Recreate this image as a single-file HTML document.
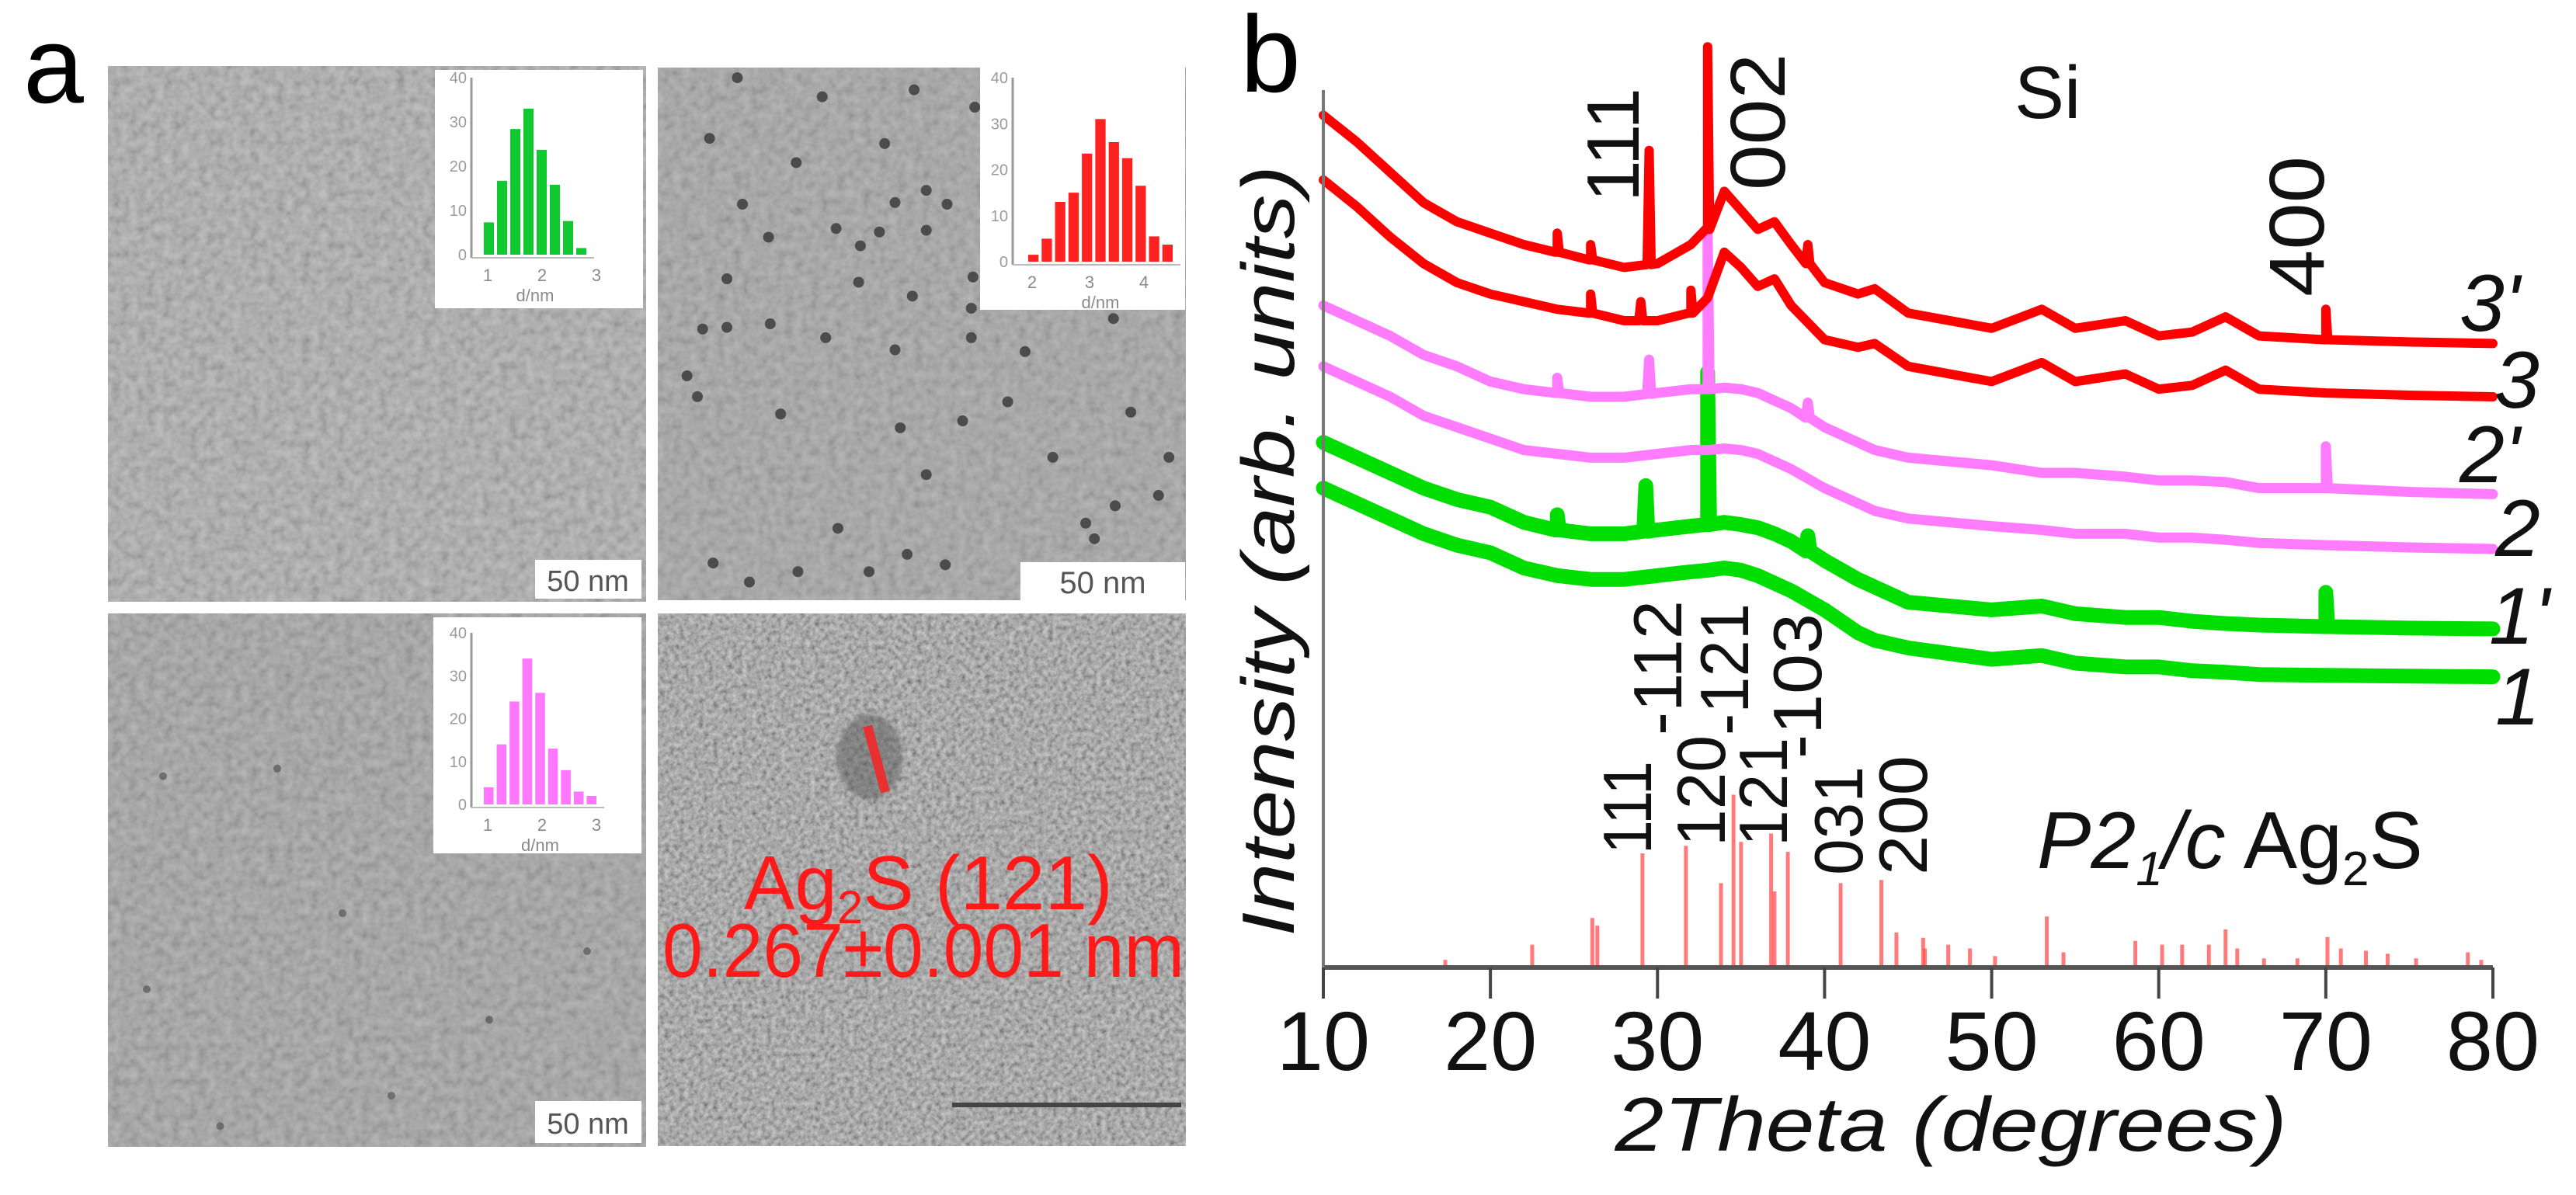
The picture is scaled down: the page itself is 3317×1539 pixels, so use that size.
<!DOCTYPE html>
<html><head><meta charset="utf-8"><title>TEM and XRD figure</title>
<style>
html,body{margin:0;padding:0;background:#fff;}
body{width:3317px;height:1539px;overflow:hidden;}
svg{display:block;font-family:"Liberation Sans",Arial,sans-serif;}
</style></head>
<body>
<svg id="fig" width="3317" height="1539" viewBox="0 0 3317 1539" xmlns="http://www.w3.org/2000/svg">
<defs>
<filter id="nA" x="0" y="0" width="100%" height="100%"><feTurbulence type="fractalNoise" baseFrequency="0.09" numOctaves="2" seed="4"/><feColorMatrix type="matrix" values="1 0 0 0 0 1 0 0 0 0 1 0 0 0 0 0 0 0 0 1"/></filter>
<filter id="nB" x="0" y="0" width="100%" height="100%"><feTurbulence type="fractalNoise" baseFrequency="0.16" numOctaves="2" seed="9"/><feColorMatrix type="matrix" values="1 0 0 0 0 1 0 0 0 0 1 0 0 0 0 0 0 0 0 1"/></filter>
<filter id="blur2"><feGaussianBlur stdDeviation="2"/></filter>
</defs>

<!-- Panel a -->
<text x="30" y="132" font-size="140">a</text>

<g>
<rect x="139" y="85" width="693" height="690" fill="#a9a9a9"/>
<rect x="139" y="85" width="693" height="690" filter="url(#nA)" opacity="0.3"/>
</g>
<g>
<rect x="847" y="87" width="680" height="686" fill="#a2a2a2"/>
<rect x="847" y="87" width="680" height="686" filter="url(#nA)" opacity="0.25"/>
<g id="dotsTR"></g>
</g>
<g>
<rect x="139" y="790" width="693" height="687" fill="#9f9f9f"/>
<rect x="139" y="790" width="693" height="687" filter="url(#nA)" opacity="0.28"/>
<g id="dotsBL"></g>
</g>
<g>
<rect x="847" y="790" width="680" height="686" fill="#8e8e8e"/>
<rect x="847" y="790" width="680" height="686" filter="url(#nB)" opacity="0.6"/>
<ellipse cx="1120" cy="975" rx="42" ry="55" fill="#555" opacity="0.45" filter="url(#blur2)"/>
<line x1="1117" y1="935" x2="1140" y2="1020" stroke="#e83030" stroke-width="12"/>
<line x1="1226" y1="1423" x2="1521" y2="1423" stroke="#444" stroke-width="6"/>
<text x="958" y="1171" font-size="98" fill="#ff1a1a">Ag<tspan font-size="60" dy="18">2</tspan><tspan dy="-18">S (121)</tspan></text>
<text x="853" y="1258" font-size="98" fill="#ff1a1a" textLength="672" lengthAdjust="spacingAndGlyphs">0.267±0.001 nm</text>
</g>

<!-- scale bar boxes -->
<g><rect x="689" y="721" width="137" height="50" fill="#fff"/><text x="757" y="761" font-size="38" fill="#555" text-anchor="middle">50 nm</text></g>
<g><rect x="1314" y="724" width="212" height="50" fill="#fff"/><text x="1420" y="764" font-size="40" fill="#555" text-anchor="middle">50 nm</text></g>
<g><rect x="689" y="1418" width="137" height="54" fill="#fff"/><text x="757" y="1460" font-size="38" fill="#555" text-anchor="middle">50 nm</text></g>

<!-- insets -->
<g id="insetG"></g>
<g id="insetR"></g>
<g id="insetP"></g>

<!-- Panel b -->
<text x="1597" y="118" font-size="140">b</text>
<g id="xrd"></g>
</svg>

<script>
const NS = "http://www.w3.org/2000/svg";
function mk(tag, attrs, parent){const e=document.createElementNS(NS,tag);for(const k in attrs)e.setAttribute(k,attrs[k]);parent.appendChild(e);return e;}

// ---------------- XRD data ----------------
const theta = [10,12,14,16,18,20,22,24,26,28,30,32,33,34,35,36,37,38,40,42,43,45,50,53,55,58,60,62,64,66,70,75,80];
const curve3p = [1120,1085,1045,1005,980,965,950,940,930,920,925,950,970,1020,995,970,980,950,900,885,892,860,840,865,840,850,830,835,855,830,825,822,820];
const curve3  = [1035,1000,960,925,900,885,875,865,860,850,850,860,880,940,920,895,905,870,825,815,820,790,770,795,770,780,760,765,785,760,755,752,750];
const curve2p = [870,850,830,805,790,770,760,755,750,750,755,760,760,762,760,755,745,735,710,690,680,670,660,650,650,645,640,640,638,630,630,625,622];
const curve2  = [790,770,750,725,710,695,680,675,670,670,675,680,680,682,680,675,665,655,630,610,600,590,580,575,570,570,565,565,562,558,555,552,550];
const curve1p = [690,670,650,630,615,605,585,575,570,570,575,580,582,585,582,578,570,560,535,510,500,480,470,475,465,460,460,455,452,450,448,446,445];
const curve1  = [630,610,590,570,555,545,525,515,510,510,515,520,522,525,522,515,505,495,470,440,430,420,405,410,400,395,395,390,388,385,384,383,382];

const spikePos3p = [24,26,29.5,33,39,70];
const spikeAmp3p = [25,20,150,240,25,40];
const spikePos3  = [26,29,32];
const spikeAmp3  = [25,25,30];
const spikePos2p = [24,29.5,33,39,70];
const spikeAmp2p = [20,45,210,20,55];
const spikePos2  = [];
const spikeAmp2  = [];
const spikePos1p = [24,29.3,33,39,70];
const spikeAmp1p = [20,60,200,20,45];
const spikePos1  = [];
const spikeAmp1  = [];

const stickPos = [17.3,22.5,26.1,26.4,29.1,31.7,33.8,34.55,35.0,36.8,37.0,37.8,40.96,43.4,44.3,45.9,46.0,47.4,48.7,50.2,53.3,54.3,58.6,60.2,61.4,63.0,64.0,64.7,66.3,68.3,70.1,70.9,72.4,73.7,75.4,78.5,79.3];
const stickAmp = [10,30,65,55,150,160,111,227,165,176,100,152,111,115,46,39,25,30,25,15,67,20,35,30,30,30,50,25,12,12,40,25,22,18,12,20,10];

const xTicks = [10,20,30,40,50,60,70,80];
const curveNames = ["3'","3","2'","2","1'","1"];

// ---------------- axes ----------------
const X0=1704, X1=3210, Y0=1246, Ytop=116;
function xs(t){return X0+(t-10)*(X1-X0)/70;}
function ys(v){return Y0-v*0.98;}
const g = document.getElementById('xrd');

function interp(arrX, arrY, t){
  for(let i=0;i<arrX.length-1;i++){ if(t>=arrX[i]&&t<=arrX[i+1]){const f=(t-arrX[i])/(arrX[i+1]-arrX[i]);return arrY[i]+f*(arrY[i+1]-arrY[i]);} }
  return arrY[arrY.length-1];
}

// sticks
const sticks = mk('g',{},g);


stickPos.forEach((t,i)=>{
  const l=mk('line',{x1:xs(t),x2:xs(t),y1:ys(0),y2:ys(stickAmp[i]),stroke:'#ff5050','stroke-width':5,opacity:0.75},sticks);
  
  
});

// curves
function drawCurve(vals, sp, sa, color, width, name){
  let pts = theta.map((t,i)=>[t,vals[i]]);
  sp.forEach((t,i)=>{const b=interp(theta,vals,t);pts.push([t-0.12,b],[t,b+sa[i]],[t+0.12,b]);});
  pts.sort((a,b)=>a[0]-b[0]);
  const d = pts.map((p,i)=>(i?'L':'M')+xs(p[0]).toFixed(1)+' '+ys(p[1]).toFixed(1)).join(' ');
  const p = mk('path',{d:d,fill:'none',stroke:color,'stroke-width':width,'stroke-linejoin':'round','stroke-linecap':'round'},g);
  
  
}
drawCurve(curve1, spikePos1, spikeAmp1, '#00dd00', 19, 'curve-1');
drawCurve(curve1p, spikePos1p, spikeAmp1p, '#00dd00', 19, 'curve-1-prime');
drawCurve(curve2, spikePos2, spikeAmp2, '#ff7cff', 13, 'curve-2');
drawCurve(curve2p, spikePos2p, spikeAmp2p, '#ff7cff', 13, 'curve-2-prime');
drawCurve(curve3, spikePos3, spikeAmp3, '#ff0000', 12, 'curve-3');
drawCurve(curve3p, spikePos3p, spikeAmp3p, '#ff0000', 12, 'curve-3-prime');

// axes lines
const ax = mk('line',{x1:X0,x2:X1,y1:Y0,y2:Y0,stroke:'#555','stroke-width':6},g);


const ay = mk('line',{x1:X0,x2:X0,y1:Ytop,y2:Y0,stroke:'#777','stroke-width':4},g);


xTicks.forEach(t=>{
  const tk=mk('line',{x1:xs(t),x2:xs(t),y1:Y0,y2:Y0+40,stroke:'#444','stroke-width':4},g);
  
  
  const tl=mk('text',{x:xs(t),y:1378,'font-size':108,'text-anchor':'middle',fill:'#111'},g);
  tl.textContent=String(t);
  
  
});
const xt=mk('text',{x:2512,y:1482,'font-size':98,'font-style':'italic','text-anchor':'middle',fill:'#111',textLength:865,lengthAdjust:'spacingAndGlyphs'},g);
xt.textContent='2Theta (degrees)';


const yt=mk('text',{transform:'translate(1666,1206) rotate(-90)','font-size':96,'font-style':'italic',fill:'#111',textLength:993,lengthAdjust:'spacingAndGlyphs'},g);
yt.textContent='Intensity (arb. units)';



// rotated peak labels
function rlab(txt, xb, ystart, len, size, name){
  const t=mk('text',{transform:`translate(${xb},${ystart}) rotate(-90)`,'font-size':size,fill:'#111',textLength:len,lengthAdjust:'spacingAndGlyphs'},g);
  t.textContent=txt;
  
  
}
rlab('111',2110,260,147,96,'peak-label-111-top');
rlab('002',2298,245,176,100,'peak-label-002');
rlab('400',2992,382,181,100,'peak-label-400');
rlab('111',2126,1100,120,88,'ref-label-111');
rlab('120',2221,1090,143,88,'ref-label-120');
rlab('-112',2165,947,174,88,'ref-label-112');
rlab('-121',2251,947,170,88,'ref-label-121-upper');
rlab('121',2301,1090,140,88,'ref-label-121-lower');
rlab('-103',2345,977,187,88,'ref-label-103');
rlab('031',2398,1127,140,88,'ref-label-031');
rlab('200',2481,1127,154,88,'ref-label-200');

function lab(txt,x,y,size,italic,name,len){
  const a={x:x,y:y,'font-size':size,fill:'#111'};
  if(italic)a['font-style']='italic';
  if(len){a.textLength=len;a.lengthAdjust='spacingAndGlyphs';}
  const t=mk('text',a,g);
  t.textContent=txt;
  
  
}
lab('Si',2594,152,96,false,'si-label');
const curveLabX=[3167,3212,3167,3213,3205,3213];
const curveLabY=[426,525,621,716,829,933];
curveNames.forEach((n,i)=>lab(n,curveLabX[i],curveLabY[i],104,true,'curve-label'));
// P2_1/c Ag2S
const ph=mk('text',{x:2623,y:1118,'font-size':104,fill:'#111'},g);


ph.innerHTML='<tspan font-style="italic">P2</tspan><tspan font-style="italic" font-size="62" dy="22">1</tspan><tspan font-style="italic" dy="-22">/c</tspan><tspan> Ag</tspan><tspan font-size="62" dy="22">2</tspan><tspan dy="-22">S</tspan>';

// ---------------- histograms ----------------
const histGreen = [7.3,16.7,28.4,33,23.7,15.8,7.6,1.5];
const histRed   = [1.5,5,13,15,23.5,31,26,22.5,16.5,5.5,3.7];
const histPink  = [4,14,24,34,26,13,8,3,2];

function inset(id, box, axisX, baseY, topY, barX0, barX1, vals, color, xlabels){
  const G=document.getElementById(id);
  mk('rect',{x:box[0],y:box[1],width:box[2],height:box[3],fill:'#fff'},G);
  mk('line',{x1:axisX,x2:axisX,y1:topY,y2:baseY+4,stroke:'#999','stroke-width':3},G);
  mk('line',{x1:axisX,x2:barX1+8,y1:baseY+4,y2:baseY+4,stroke:'#bbb','stroke-width':2},G);
  [0,10,20,30,40].forEach(v=>{const t=mk('text',{x:axisX-6,y:baseY-(baseY-topY)*v/40+7,'font-size':20,fill:'#9a9a9a','text-anchor':'end'},G);t.textContent=v;});
  const w=(barX1-barX0)/vals.length;
  vals.forEach((v,i)=>{
    const r=mk('rect',{x:barX0+i*w+2,y:baseY-(baseY-topY)*v/40,width:w-4,height:(baseY-topY)*v/40,fill:color},G);
    
    
  });
  xlabels.forEach(l=>{const t=mk('text',{x:l[0],y:baseY+34,'font-size':22,fill:'#8a8a8a','text-anchor':'middle'},G);t.textContent=l[1];});
  const dl=mk('text',{x:(barX0+barX1)/2,y:baseY+60,'font-size':22,fill:'#8a8a8a','text-anchor':'middle'},G);dl.textContent='d/nm';
}
inset('insetG',[560,90,268,307],607,328,100,621,757,histGreen,'#10c830',[[628,'1'],[698,'2'],[768,'3']]);
inset('insetR',[1262,87,264,312],1304,337,100,1322,1512,histRed,'#ff2020',[[1329,'2'],[1403,'3'],[1473,'4']]);
inset('insetP',[558,795,268,304],607,1036,815,621,770,histPink,'#ff77ff',[[628,'1'],[698,'2'],[768,'3']]);

// ---------------- decorative TEM particles ----------------
const dTR=document.getElementById('dotsTR');
[[245,45],[490,100],[755,80],[930,130],[165,220],[670,235],[415,290],[790,370],[260,410],[700,405],[850,410],[530,480],[655,490],[790,485],[335,505],[600,530],[215,625],[595,635],[925,620],[750,675],[920,710],[145,770],[215,765],[340,755],[500,795],[920,795],[700,830],[1075,835],[1330,740],[100,905],[130,965],[1025,980],[370,1015],[895,1035],[715,1055],[1380,1010],[1155,1140],[790,1190],[1490,1140],[1460,1250],[1335,1280],[1250,1330],[1275,1375],[535,1345],[735,1420],[845,1450],[175,1445],[420,1470],[625,1470],[280,1500]].forEach(p=>{
  mk('circle',{cx:840+p[0]/2.24,cy:80+p[1]/2.24,r:7,fill:'#3c3c3c',opacity:0.85},dTR);
});
const dBL=document.getElementById('dotsBL');
[[200,1020],[340,1010],[420,1200],[600,1340],[270,1480],[480,1440],[720,1250],[180,1300]].forEach(p=>{
  mk('circle',{cx:p[0]*1.05,cy:p[1]*0.98,r:5,fill:'#4a4a4a',opacity:0.6},dBL);
});
</script>
</body></html>
